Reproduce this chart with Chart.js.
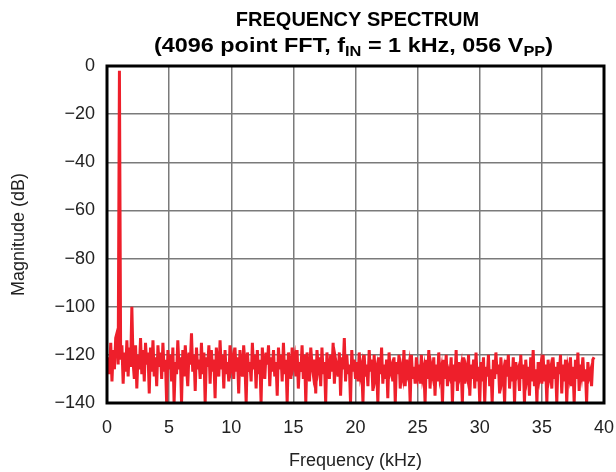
<!DOCTYPE html>
<html>
<head>
<meta charset="utf-8">
<script src="https://cdn.jsdelivr.net/npm/chart.js@4/dist/chart.umd.min.js"></script>
<style>
  html, body { margin: 0; padding: 0; background: #fff; }
</style>
</head>
<body>
<canvas id="spectrumChart" width="616" height="472"></canvas>
<script>
// FFT bin spacing in kHz, first bin at 0.1 kHz
const binKHz = 0.1;

// magnitude (dB), 5 kHz per band
const band0to5 = [-121, -128, -115, -131, -118, -126, -113, -111, -124, -2, -122, -116, -132, -119, -127, -114, -129, -117, -125, -100, -123, -130, -116, -134, -120, -126, -113, -128, -118, -131, -115, -124, -119, -136, -117, -127, -114, -129, -121, -133, -116, -125, -119, -130, -115, -127, -122, -140, -118, -126];
const band5to10 = [-120, -131, -117, -140, -123, -128, -114, -126, -121, -140, -118, -129, -116, -125, -133, -119, -124, -111, -127, -120, -135, -117, -126, -122, -130, -115, -128, -119, -140, -121, -125, -116, -132, -118, -127, -122, -138, -117, -124, -129, -114, -126, -120, -134, -118, -128, -123, -131, -116, -125];
const band10to15 = [-122, -130, -117, -127, -121, -136, -118, -125, -129, -116, -124, -140, -119, -127, -123, -131, -115, -126, -120, -134, -118, -128, -122, -140, -117, -125, -130, -119, -124, -116, -133, -121, -127, -118, -129, -123, -137, -117, -126, -120, -131, -115, -128, -122, -140, -119, -125, -130, -117, -124];
const band15to20 = [-121, -129, -118, -134, -123, -127, -116, -130, -120, -140, -119, -126, -131, -117, -124, -128, -122, -136, -118, -125, -121, -133, -117, -128, -123, -140, -119, -126, -130, -120, -127, -115, -132, -122, -125, -129, -119, -137, -121, -126, -113, -131, -120, -128, -124, -140, -118, -127, -122, -130];
const band20to25 = [-123, -131, -119, -128, -125, -140, -120, -129, -124, -133, -118, -127, -122, -135, -120, -129, -126, -140, -121, -128, -117, -132, -124, -130, -122, -138, -119, -127, -125, -131, -121, -140, -123, -128, -120, -134, -126, -129, -118, -133, -122, -127, -124, -140, -120, -130, -125, -132, -121, -128];
const band25to30 = [-124, -132, -120, -129, -126, -140, -122, -130, -118, -134, -125, -128, -121, -137, -124, -131, -119, -129, -126, -140, -122, -130, -120, -133, -127, -129, -121, -140, -124, -131, -118, -135, -123, -128, -125, -140, -121, -132, -126, -129, -120, -137, -124, -130, -122, -134, -119, -131, -125, -140];
const band30to35 = [-123, -131, -121, -140, -125, -129, -120, -133, -126, -140, -122, -130, -119, -128, -124, -136, -121, -130, -127, -140, -122, -129, -120, -134, -125, -131, -121, -140, -123, -128, -126, -135, -120, -130, -124, -140, -122, -129, -125, -137, -121, -131, -118, -133, -126, -140, -123, -129, -125, -132];
const band35to40 = [-120, -131, -124, -140, -122, -129, -126, -134, -121, -130, -125, -140, -123, -128, -120, -136, -124, -131, -122, -140, -126, -129, -121, -133, -125, -140, -122, -130, -119, -135, -124, -128, -121, -131, -126, -140, -123, -129, -127, -133, -122, -121];

const bands = [band0to5, band5to10, band10to15, band15to20, band20to25, band25to30, band30to35, band35to40];

const xTicks = [0, 5, 10, 15, 20, 25, 30, 35, 40];
const yTicks = [0, -20, -40, -60, -80, -100, -120, -140];

const points = [];
bands.forEach((band, b) => {
    band.forEach((v, i) => {
        const bin = b * 50 + i + 1;
        points.push({ x: +(bin * binKHz).toFixed(1), y: v });
    });
});

const font = "'Liberation Sans', Arial, Helvetica, sans-serif";

// white background, full black frame and the two-line title with subscripts
const framePlugin = {
    id: 'frame',
    beforeDraw(chart) {
        const c = chart.ctx;
        c.save();
        c.fillStyle = '#fff';
        c.fillRect(0, 0, chart.width, chart.height);
        c.restore();
    },
    afterDraw(chart) {
        const c = chart.ctx;
        const a = chart.chartArea;
        c.save();
        c.strokeStyle = '#000';
        c.lineWidth = 3;
        c.strokeRect(a.left, a.top, a.right - a.left, a.bottom - a.top);

        const cx = (a.left + a.right) / 2;
        c.fillStyle = '#000';
        c.textBaseline = 'alphabetic';
        c.font = 'bold 20px ' + font;
        c.textAlign = 'center';
        c.fillText('FREQUENCY SPECTRUM', cx + 2, 26);

        // second line: normal-size and subscript parts, a bit wider than line 1
        const parts = [
            ['(4096 point FFT, f', false],
            ['IN', true],
            [' = 1 kHz, 056 V', false],
            ['PP', true],
            [')', false]
        ];
        const big = 'bold 20px ' + font;
        const small = 'bold 14px ' + font;
        const stretch = 1.17;
        let total = 0;
        parts.forEach(([t, sub]) => { c.font = sub ? small : big; total += c.measureText(t).width; });
        c.translate(cx - 2, 0);
        c.scale(stretch, 1);
        let x = -total / 2;
        c.textAlign = 'left';
        parts.forEach(([t, sub]) => {
            c.font = sub ? small : big;
            c.fillText(t, x, sub ? 56 : 52);
            x += c.measureText(t).width;
        });
        c.restore();
    }
};

const minus = v => String(v).replace('-', '\u2212');

new Chart(document.getElementById('spectrumChart'), {
    type: 'line',
    data: {
        datasets: [{
            data: points,
            borderColor: '#ee1f2b',
            borderWidth: 3,
            pointRadius: 0,
            tension: 0
        }]
    },
    options: {
        responsive: false,
        animation: false,
        events: [],
        layout: { padding: { left: 0, top: 66, right: 12, bottom: 0 } },
        plugins: { legend: { display: false }, tooltip: { enabled: false } },
        scales: {
            x: {
                type: 'linear',
                min: 0,
                max: 40,
                afterBuildTicks: s => { s.ticks = xTicks.map(v => ({ value: v })); },
                afterFit: s => { s.height = 69; s.paddingLeft = 0; s.paddingRight = 0; },
                grid: { color: '#7a7a7a', lineWidth: 1.5, drawTicks: false },
                border: { display: false },
                ticks: { color: '#222', padding: 14, maxRotation: 0, font: { family: font, size: 18 } },
                title: { display: true, text: 'Frequency (kHz)', color: '#222', padding: { top: 0, bottom: 0 }, font: { family: font, size: 18 } }
            },
            y: {
                min: -140,
                max: 0,
                afterBuildTicks: s => { s.ticks = yTicks.map(v => ({ value: v })); },
                afterFit: s => { s.width = 107; s.paddingTop = 0; s.paddingBottom = 0; },
                grid: { color: '#7a7a7a', lineWidth: 1.5, drawTicks: false },
                border: { display: false },
                ticks: { color: '#222', padding: 12, callback: v => minus(v), font: { family: font, size: 18 } },
                title: { display: true, text: 'Magnitude (dB)', color: '#222', padding: { top: 8, bottom: 0 }, font: { family: font, size: 18 } }
            }
        }
    },
    plugins: [framePlugin]
});
</script>
</body>
</html>
